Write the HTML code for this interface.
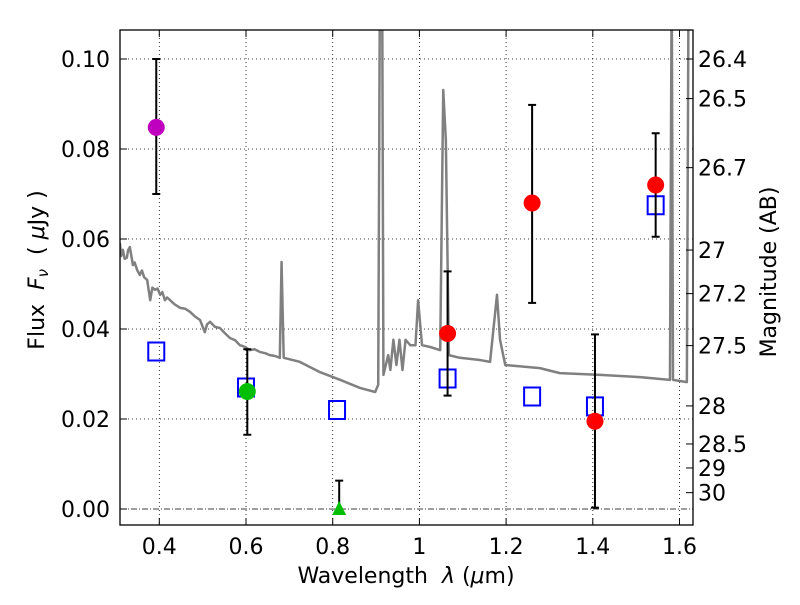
<!DOCTYPE html>
<html><head><meta charset="utf-8"><style>
body{margin:0;background:#fff;}
svg text{font-family:"DejaVu Sans","Liberation Sans",sans-serif;fill:#000;}
</style></head><body>
<svg id="chart" width="800" height="600" xmlns="http://www.w3.org/2000/svg">
<defs><clipPath id="clip"><rect x="120" y="30" width="573" height="495"/></clipPath></defs>
<rect width="800" height="600" fill="#fff"/>
<g id="grid"></g>
<g id="spec" clip-path="url(#clip)"></g>
<g id="marks"></g>
<rect x="120" y="30" width="573" height="495" fill="none" stroke="#000" stroke-width="1.3"/>
<g id="axes"></g>
<text x="406" y="583" font-size="22" text-anchor="middle" xml:space="preserve" style="white-space:pre">Wavelength  <tspan font-style="italic">λ</tspan> (<tspan font-style="italic">μ</tspan>m)</text>
<text transform="translate(44,270) rotate(-90)" font-size="22" text-anchor="middle" xml:space="preserve" style="white-space:pre">Flux  <tspan font-style="italic">F</tspan><tspan font-size="15" dy="4" font-style="italic">ν</tspan><tspan dy="-4">  ( <tspan font-style="italic">μ</tspan>Jy )</tspan></text>
<text transform="translate(776,272) rotate(-90)" font-size="22" text-anchor="middle">Magnitude (AB)</text>
</svg>
<script>
const xTicks=[0.4,0.6,0.8,1.0,1.2,1.4,1.6];
const xTickLabels=["0.4","0.6","0.8","1","1.2","1.4","1.6"];
const yTicks=[0,0.02,0.04,0.06,0.08,0.10];
const yTickLabels=["0.00","0.02","0.04","0.06","0.08","0.10"];
const magTicks=[26.4,26.5,26.7,27,27.2,27.5,28,28.5,29,30];
const specWave=[0.309,0.312,0.316,0.320,0.325,0.328,0.332,0.336,0.339,0.343,0.349,0.355,0.36,0.365,0.372,0.379,0.384,0.390,0.396,0.402,0.407,0.413,0.418,0.425,0.435,0.448,0.46,0.471,0.482,0.494,0.505,0.510,0.517,0.528,0.540,0.552,0.563,0.575,0.586,0.598,0.609,0.62,0.632,0.645,0.655,0.667,0.678,0.682,0.687,0.724,0.771,0.817,0.863,0.898,0.905,0.909,0.914,0.917,0.928,0.933,0.940,0.947,0.954,0.961,0.968,0.979,0.991,0.997,1.006,1.025,1.048,1.055,1.061,1.068,1.093,1.140,1.163,1.179,1.186,1.198,1.278,1.324,1.417,1.509,1.578,1.582,1.585,1.617,1.621];
const specFlux=[0.0591,0.0562,0.0576,0.0556,0.0558,0.0575,0.0582,0.056,0.0542,0.0548,0.0531,0.052,0.053,0.0515,0.0509,0.0464,0.0492,0.0487,0.049,0.0476,0.0482,0.0464,0.047,0.0464,0.0455,0.0447,0.0445,0.0438,0.0428,0.042,0.0393,0.041,0.0416,0.0405,0.0402,0.039,0.038,0.0375,0.0364,0.036,0.0353,0.0355,0.0349,0.0346,0.0342,0.034,0.0336,0.0549,0.0336,0.0327,0.0304,0.0287,0.0269,0.026,0.0276,0.12,0.12,0.0298,0.0342,0.0309,0.0376,0.032,0.0376,0.0309,0.0376,0.0364,0.0364,0.0464,0.0364,0.036,0.0353,0.0931,0.082,0.0342,0.0336,0.0331,0.0327,0.0476,0.0376,0.032,0.0313,0.0302,0.0298,0.0293,0.0287,0.12,0.0287,0.0282,0.12];
const modelWave=[0.393,0.60,0.81,1.065,1.26,1.405,1.545];
const modelFlux=[0.035,0.027,0.022,0.029,0.025,0.0228,0.0675];
const obsWave=[0.393,0.603,1.065,1.26,1.405,1.545];
const obsFlux=[0.0848,0.0261,0.039,0.068,0.0195,0.072];
const obsLo=[0.070,0.0165,0.0252,0.0458,0.0003,0.0605];
const obsHi=[0.100,0.0355,0.0528,0.0898,0.0388,0.0835];
const obsColor=["#bf00bf","#00bf00","#ff0000","#ff0000","#ff0000","#ff0000"];
const limWave=[0.815];const limFlux=[0.0];const limHi=[0.0063];

const NS="http://www.w3.org/2000/svg";
const X=v=>159.3+(v-0.4)*433.5;
const Y=f=>509-f*4500;
function mk(tag,attrs,parent){const e=document.createElementNS(NS,tag);for(const k in attrs)e.setAttribute(k,attrs[k]);parent.appendChild(e);return e;}
const grid=document.getElementById('grid'),axes=document.getElementById('axes'),spec=document.getElementById('spec'),marks=document.getElementById('marks');
xTicks.forEach((v,i)=>{const x=X(v);
 const g=mk('line',{x1:x,x2:x,y1:30,y2:525,stroke:'#000','stroke-width':0.8,'stroke-dasharray':'1,3'},grid);
 
 mk('line',{x1:x,x2:x,y1:525,y2:518,stroke:'#000'},axes);mk('line',{x1:x,x2:x,y1:30,y2:37,stroke:'#000'},axes);
 const t=mk('text',{x:x,y:554,'font-size':22,'text-anchor':'middle'},axes);t.textContent=xTickLabels[i];
 });
yTicks.forEach((v,i)=>{const y=Y(v);
 const g=mk('line',{x1:120,x2:693,y1:y,y2:y,stroke:'#000','stroke-width':0.8,'stroke-dasharray':v===0?'6,2,1,2':'1,3'},grid);
 
 mk('line',{x1:120,x2:127,y1:y,y2:y,stroke:'#000'},axes);
 const t=mk('text',{x:110,y:y+8,'font-size':22,'text-anchor':'end'},axes);t.textContent=yTickLabels[i];
 });
magTicks.forEach(m=>{const f=Math.pow(10,(23.9-m)/2.5);const y=Y(f);
 mk('line',{x1:686,x2:693,y1:y,y2:y,stroke:'#000'},axes);
 const t=mk('text',{x:698,y:y+8,'font-size':22},axes);t.textContent=String(m);
 });
const p=mk('polyline',{points:specWave.map((w,i)=>X(w)+','+Y(specFlux[i])).join(' '),fill:'none',stroke:'#808080','stroke-width':2.5,'stroke-linejoin':'round'},spec);

modelWave.forEach((w,i)=>{const r=mk('rect',{x:X(w)-8,y:Y(modelFlux[i])-9,width:16,height:18,fill:'none',stroke:'#0000ff','stroke-width':2},marks);
 });
obsWave.forEach((w,i)=>{const x=X(w);
 mk('line',{x1:x,x2:x,y1:Y(obsLo[i]),y2:Y(obsHi[i]),stroke:'#000','stroke-width':2},marks);
 mk('line',{x1:x-4,x2:x+4,y1:Y(obsLo[i]),y2:Y(obsLo[i]),stroke:'#000','stroke-width':2},marks);
 mk('line',{x1:x-4,x2:x+4,y1:Y(obsHi[i]),y2:Y(obsHi[i]),stroke:'#000','stroke-width':2},marks);
 const c=mk('circle',{cx:x,cy:Y(obsFlux[i]),r:8.5,fill:obsColor[i]},marks);
 });
limWave.forEach((w,i)=>{const x=X(w),y=Y(limFlux[i]);
 mk('line',{x1:x,x2:x,y1:y,y2:Y(limHi[i]),stroke:'#000','stroke-width':2},marks);
 mk('line',{x1:x-4,x2:x+4,y1:Y(limHi[i]),y2:Y(limHi[i]),stroke:'#000','stroke-width':2},marks);
 const t=mk('polygon',{points:`${x},${y-8} ${x-7},${y+6} ${x+7},${y+6}`,fill:'#00bf00'},marks);
 });
</script>
</body></html>
